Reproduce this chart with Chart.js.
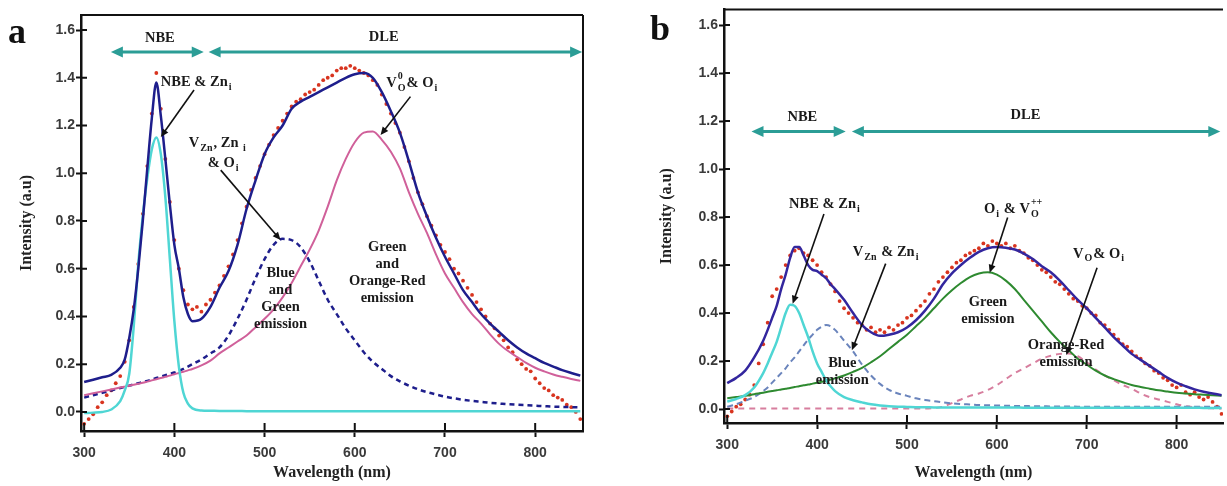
<!DOCTYPE html>
<html>
<head>
<meta charset="utf-8">
<title>PL spectra a / b</title>
<script src="https://cdn.jsdelivr.net/npm/chart.js@4.4.1/dist/chart.umd.min.js"></script>
<style>
    html, body { margin: 0; padding: 0; background: #fff; }
    #wrap { position: relative; width: 1227px; height: 486px; overflow: hidden; }
    #chart-a { position: absolute; left: 0; top: 0; }
    #chart-b { position: absolute; left: 612px; top: 0; }
</style>
</head>
<body>
<div id="wrap">
    <canvas id="chart-a" width="612" height="486"></canvas>
    <canvas id="chart-b" width="615" height="486"></canvas>
</div>
<script>
'use strict';

// Axis ticks
var xTickVals = [300, 400, 500, 600, 700, 800];
var xTickLabels = ['300', '400', '500', '600', '700', '800'];
var yTickVals = [0, 0.2, 0.4, 0.6, 0.8, 1.0, 1.2, 1.4, 1.6];
var yTickLabels = ['0.0', '0.2', '0.4', '0.6', '0.8', '1.0', '1.2', '1.4', '1.6'];

// Wavelengths (nm) where the fitted curves were read
var fitWl = [
    300, 310, 320, 330, 340,
    345, 350, 355, 360, 365, 370, 375, 380, 385, 390, 395, 400, 405, 410, 415, 420,
    430, 440, 450, 460, 470, 480, 490, 500, 510, 520,
    530, 540, 550, 560, 570, 580, 590, 600, 610, 620,
    630, 640, 650, 660, 670, 680, 690, 700, 710, 720,
    730, 740, 750, 760, 770, 780, 790, 800, 810, 820,
    830, 840, 850
];

// Panel a - fitted curves
var fitA = [
    .125, .135, .145, .155, .185,
    .22, .31, .43, .60, .80, 1.02, 1.23, 1.38, 1.24, 1.06, .87, .70, .60, .48, .41, .38,
    .39, .44, .52, .59, .70, .85, .97, 1.08, 1.15, 1.20,
    1.27, 1.30, 1.32, 1.34, 1.36, 1.38, 1.40, 1.415, 1.42, 1.40,
    1.34, 1.26, 1.17, 1.05, .92, .82, .73, .65, .58, .51,
    .46, .41, .37, .335, .30, .27, .245, .225, .205, .19,
    .175, .163, .152
];
var nbeA = [
    -.005, -.003, 0, .01, .045,
    .09, .16, .36, .62, .82, .98, 1.10, 1.15, 1.08, .90, .64, .38, .19, .08, .035, .015,
    .006, .005, .004, .004, .004, .003, .003, .003, .003, .003,
    .003, .003, .003, .003, .003, .003, .003, .003, .003, .003,
    .003, .003, .003, .003, .003, .003, .003, .003, .003, .003,
    .003, .003, .003, .003, .003, .003, .003, .003, .003, .003,
    .003, .003, .003
];
var blueGreenA = [
    .06, .07, .08, .09, .10,
    .105, .11, .115, .12, .125, .13, .136, .142, .148, .154, .16, .165, .172, .18, .19, .20,
    .22, .245, .27, .32, .39, .47, .56, .64, .70, .725,
    .72, .69, .63, .55, .47, .41, .35, .30, .25, .21,
    .18, .15, .128, .11, .095, .083, .073, .064, .057, .051,
    .046, .042, .038, .035, .032, .03, .028, .026, .024, .022,
    .021, .02, .019
];
var greenOrangeA = [
    .07, .078, .086, .094, .102,
    .106, .11, .114, .118, .122, .127, .132, .137, .142, .147, .152, .158, .163, .168, .174, .18,
    .195, .215, .245, .27, .295, .32, .355, .39, .43, .48,
    .54, .61, .68, .76, .86, .97, 1.06, 1.13, 1.17, 1.175,
    1.14, 1.09, 1.02, .92, .83, .75, .66, .58, .52, .46,
    .41, .37, .325, .285, .255, .23, .205, .185, .17, .157,
    .147, .138, .13
];

// Panel b - fitted curves
var fitB = [
    .108, .13, .16, .215, .285,
    .33, .38, .43, .50, .56, .63, .675, .675, .64, .60, .58, .575, .56, .545, .52, .50,
    .455, .40, .35, .32, .305, .31, .32, .34, .37, .41,
    .46, .52, .565, .60, .63, .655, .67, .675, .672, .665,
    .648, .625, .595, .57, .535, .495, .455, .42, .38, .34,
    .30, .265, .23, .205, .18, .155, .13, .11, .095, .082,
    .072, .065, .058
];
var nbeB = [
    .031, .042, .058, .09, .15,
    .19, .235, .28, .34, .40, .435, .43, .40, .35, .30, .24, .19, .155, .12, .095, .075,
    .05, .037, .028, .02, .015, .012, .01, .009, .008, .008,
    .007, .007, .007, .007, .007, .007, .007, .007, .007, .007,
    .006, .006, .006, .006, .006, .006, .006, .006, .006, .006,
    .006, .006, .006, .006, .006, .006, .006, .006, .006, .006,
    .005, .005, .005
];
var blueB = [
    .01, .02, .035, .05, .075,
    .09, .11, .13, .15, .17, .195, .215, .24, .265, .29, .31, .33, .343, .35, .345, .33,
    .285, .24, .185, .14, .105, .08, .065, .055, .045, .038,
    .033, .028, .024, .021, .019, .017, .016, .015, .014, .013,
    .013, .012, .012, .011, .011, .011, .01, .01, .01, .01,
    .01, .01, .01, .01, .01, .01, .01, .01, .01, .01,
    .01, .01, .01
];
var greenB = [
    .045, .05, .055, .062, .068,
    .072, .075, .078, .082, .085, .088, .092, .095, .099, .102, .106, .11, .114, .118, .123, .128,
    .14, .155, .172, .195, .22, .25, .28, .31, .345, .38,
    .42, .46, .495, .525, .55, .565, .57, .56, .535, .50,
    .455, .41, .365, .32, .28, .245, .21, .185, .16, .14,
    .125, .112, .10, .092, .085, .078, .073, .068, .065, .062,
    .06, .058, .056
];
var orangeRedB = [
    .002, .002, .002, .002, .002,
    .002, .002, .002, .002, .002, .002, .002, .002, .002, .002, .002, .002, .002, .002, .002, .002,
    .002, .002, .002, .002, .002, .002, .002, .002, .002, .002,
    .004, .01, .025, .04, .055, .065, .08, .10, .125, .15,
    .17, .19, .21, .222, .23, .232, .22, .195, .165, .14,
    .12, .10, .085, .065, .05, .04, .03, .02, .012, .008,
    .005, .003, .002
];

// Measured spectra (red dots), one value every 5 nm
var dotWl = [
    300, 305, 310, 315, 320, 325, 330, 335, 340, 345,
    350, 355, 360, 365, 370, 375, 380, 385, 390, 395,
    400, 405, 410, 415, 420, 425, 430, 435, 440, 445,
    450, 455, 460, 465, 470, 475, 480, 485, 490, 495,
    500, 505, 510, 515, 520, 525, 530, 535, 540, 545,
    550, 555, 560, 565, 570, 575, 580, 585, 590, 595,
    600, 605, 610, 615, 620, 625, 630, 635, 640, 645,
    650, 655, 660, 665, 670, 675, 680, 685, 690, 695,
    700, 705, 710, 715, 720, 725, 730, 735, 740, 745,
    750, 755, 760, 765, 770, 775, 780, 785, 790, 795,
    800, 805, 810, 815, 820, 825, 830, 835, 840, 845,
    850
];
var dotsA = [
    -.05, -.03, -.01, .02, .04, .07, .09, .12, .15, .21,
    .30, .44, .62, .83, 1.03, 1.25, 1.42, 1.27, 1.06, .88,
    .72, .60, .51, .45, .43, .44, .42, .45, .47, .50,
    .53, .57, .61, .66, .72, .79, .86, .93, .98, 1.03,
    1.08, 1.12, 1.16, 1.19, 1.22, 1.25, 1.28, 1.30, 1.31, 1.33,
    1.34, 1.35, 1.37, 1.39, 1.40, 1.41, 1.43, 1.44, 1.44, 1.45,
    1.44, 1.43, 1.42, 1.41, 1.39, 1.37, 1.33, 1.29, 1.25, 1.21,
    1.17, 1.11, 1.05, .98, .92, .87, .82, .78, .74, .70,
    .67, .64, .60, .58, .55, .52, .49, .46, .43, .40,
    .37, .35, .32, .30, .27, .25, .22, .20, .18, .17,
    .14, .12, .10, .09, .07, .06, .05, .03, .02, .00,
    -.03
];
var dotsB = [
    -.03, -.01, .01, .02, .04, .06, .10, .19, .27, .36,
    .47, .50, .55, .60, .64, .66, .67, .65, .64, .62,
    .60, .57, .55, .52, .49, .45, .42, .40, .38, .36,
    .35, .33, .34, .32, .33, .32, .34, .33, .35, .36,
    .38, .39, .41, .43, .45, .48, .50, .53, .55, .57,
    .59, .61, .62, .64, .65, .66, .67, .69, .68, .70,
    .69, .68, .69, .67, .68, .66, .65, .63, .62, .60,
    .58, .57, .55, .53, .52, .50, .48, .46, .45, .43,
    .42, .40, .39, .36, .35, .33, .31, .29, .27, .26,
    .24, .22, .21, .19, .18, .16, .15, .13, .12, .10,
    .09, .10, .07, .06, .07, .05, .04, .05, .03, .01,
    -.02
];

var SERIF = "'Liberation Serif', 'Times New Roman', serif";
var SANS = "'Liberation Sans', Arial, sans-serif";

var PLChart = {

    /**
     * Build both panels
     */
    init: function() {
        this.render('chart-a', {
            label: 'a',
            labelPos: [8, 43],
            xMin: 296.5, xMax: 853, yMin: -0.08, yMax: 1.663,
            padding: { top: 15, right: 29, left: 0, bottom: 0 },
            yWidth: 81, xHeight: 55, yTitlePad: 17,
            frame: { top: true, right: true },
            datasets: [
                this.line('Fit', fitA, '#1e1e8c', 2.5),
                this.line('NBE & Zni', nbeA, '#4fd6d4', 2.5),
                this.line('Green and Orange-Red', greenOrangeA, '#d0609a', 2),
                this.line('Blue and Green', blueGreenA, '#1e1e8c', 2.5, [5, 4]),
                this.dots('Measured', dotsA)
            ],
            notes: [
                { type: 'span', from: 329.6, to: 432.6, y: 1.508 },
                { type: 'span', from: 438, to: 852, y: 1.508 },
                { type: 'text', x: 383.9, y: 1.567, lines: [[{ t: 'NBE' }]] },
                { type: 'text', x: 632, y: 1.571, lines: [[{ t: 'DLE' }]] },
                { type: 'text', x: 385, y: 1.38, align: 'left', lines: [[{ t: 'NBE & Zn' }, { sub: 'i' }]] },
                { type: 'arrow', x1: 421.8, y1: 1.349, x2: 385, y2: 1.152 },
                { type: 'text', x: 416, y: 1.126, align: 'left', lines: [[{ t: 'V' }, { sub: 'Zn' }, { t: ', Zn ' }, { sub: 'i' }]] },
                { type: 'text', x: 437, y: 1.043, align: 'left', lines: [[{ t: '& O' }, { sub: 'i' }]] },
                { type: 'arrow', x1: 451.4, y1: 1.013, x2: 517.7, y2: 0.72 },
                { type: 'text', x: 517.7, y: 0.581, lines: [[{ t: 'Blue' }], [{ t: 'and' }], [{ t: 'Green' }], [{ t: 'emission' }]] },
                { type: 'text', x: 635, y: 1.378, align: 'left', lines: [[{ t: 'V' }, { sub: 'O', sup: '0' }, { t: '& O' }, { sub: 'i' }]] },
                { type: 'arrow', x1: 661.7, y1: 1.321, x2: 628.6, y2: 1.16 },
                { type: 'text', x: 636, y: 0.69, lines: [[{ t: 'Green' }], [{ t: 'and' }], [{ t: 'Orange-Red' }], [{ t: 'emission' }]] }
            ]
        });

        this.render('chart-b', {
            label: 'b',
            labelPos: [38, 40],
            xMin: 296.4, xMax: 851.6, yMin: -0.058, yMax: 1.665,
            padding: { top: 7, right: 0, left: 0, bottom: 0 },
            yWidth: 112, xHeight: 63, yTitlePad: 45,
            frame: { top: true, right: false },
            datasets: [
                this.line('Fit', fitB, '#33269e', 2.5),
                this.line('NBE & Zni', nbeB, '#4fd6d4', 2.5),
                this.line('Green emission', greenB, '#2e8a30', 2),
                this.line('Blue emission', blueB, '#6a84bc', 2, [6, 4]),
                this.line('Orange-Red emission', orangeRedB, '#d77e9e', 2, [6, 5]),
                this.dots('Measured', dotsB)
            ],
            notes: [
                { type: 'span', from: 327, to: 431.8, y: 1.156 },
                { type: 'span', from: 438.7, to: 848.6, y: 1.156 },
                { type: 'text', x: 383.6, y: 1.214, lines: [[{ t: 'NBE' }]] },
                { type: 'text', x: 631.8, y: 1.226, lines: [[{ t: 'DLE' }]] },
                { type: 'text', x: 408.7, y: 0.854, lines: [[{ t: 'NBE & Zn' }, { sub: 'i' }]] },
                { type: 'arrow', x1: 407.6, y1: 0.813, x2: 372.8, y2: 0.439 },
                { type: 'text', x: 476.8, y: 0.654, lines: [[{ t: 'V' }, { sub: 'Zn' }, { t: ' & Zn' }, { sub: 'i' }]] },
                { type: 'arrow', x1: 476.3, y1: 0.606, x2: 438.7, y2: 0.245 },
                { type: 'text', x: 428, y: 0.192, lines: [[{ t: 'Blue' }], [{ t: 'emission' }]] },
                { type: 'text', x: 618.7, y: 0.833, lines: [[{ t: 'O' }, { sub: 'i' }, { t: ' & V' }, { sub: 'O', sup: '++' }]] },
                { type: 'arrow', x1: 612, y1: 0.798, x2: 592, y2: 0.568 },
                { type: 'text', x: 713.7, y: 0.647, lines: [[{ t: 'V' }, { sub: 'O' }, { t: '& O' }, { sub: 'i' }]] },
                { type: 'arrow', x1: 711.5, y1: 0.589, x2: 677.2, y2: 0.225 },
                { type: 'text', x: 590, y: 0.445, lines: [[{ t: 'Green' }], [{ t: 'emission' }]] },
                { type: 'text', x: 677, y: 0.266, lines: [[{ t: 'Orange-Red' }], [{ t: 'emission' }]] }
            ]
        });
    },

    points: function(xs, ys) {
        return xs.map(function(x, i) { return { x: x, y: ys[i] }; });
    },

    line: function(label, values, color, width, dash) {
        return {
            label: label,
            data: this.points(fitWl, values),
            borderColor: color,
            borderWidth: width,
            borderDash: dash || [],
            pointRadius: 0,
            fill: false,
            cubicInterpolationMode: 'monotone'
        };
    },

    dots: function(label, values) {
        return {
            label: label,
            data: this.points(dotWl, values),
            showLine: false,
            pointRadius: 1.9,
            pointBorderWidth: 0,
            pointBackgroundColor: '#d8341f'
        };
    },

    /**
     * Render one panel
     */
    render: function(id, p) {
        var self = this;
        var ctx = document.getElementById(id).getContext('2d');
        var tickFont = { family: SANS, size: 14, weight: 'bold' };
        var titleFont = { family: SERIF, size: 16, weight: 'bold' };

        new Chart(ctx, {
            type: 'line',
            data: { datasets: p.datasets },
            options: {
                responsive: false,
                animation: false,
                events: [],
                layout: { padding: p.padding },
                plugins: {
                    legend: { display: false },
                    tooltip: { enabled: false }
                },
                scales: {
                    x: {
                        type: 'linear',
                        min: p.xMin,
                        max: p.xMax,
                        afterBuildTicks: function(scale) {
                            scale.ticks = xTickVals.map(function(v) { return { value: v }; });
                        },
                        afterFit: function(scale) { scale.height = p.xHeight; },
                        ticks: {
                            callback: function(v, i) { return xTickLabels[i]; },
                            font: tickFont,
                            color: '#3a3a3a',
                            padding: 8,
                            maxRotation: 0,
                            autoSkip: false
                        },
                        grid: { drawOnChartArea: false, tickLength: 6, tickWidth: 2, tickColor: '#111' },
                        border: { width: 2.5, color: '#111' },
                        title: {
                            display: true,
                            text: 'Wavelength (nm)',
                            font: titleFont,
                            color: '#222',
                            padding: { top: 0, bottom: 4 }
                        }
                    },
                    y: {
                        min: p.yMin,
                        max: p.yMax,
                        afterBuildTicks: function(scale) {
                            scale.ticks = yTickVals.map(function(v) { return { value: v }; });
                        },
                        afterFit: function(scale) { scale.width = p.yWidth; },
                        ticks: {
                            callback: function(v, i) { return yTickLabels[i]; },
                            font: tickFont,
                            color: '#3a3a3a',
                            padding: 1
                        },
                        grid: { drawOnChartArea: false, tickLength: 5, tickWidth: 2, tickColor: '#111' },
                        border: { width: 2.5, color: '#111' },
                        title: {
                            display: true,
                            text: 'Intensity (a.u)',
                            font: titleFont,
                            color: '#222',
                            padding: { top: p.yTitlePad, bottom: 0 }
                        }
                    }
                }
            },
            plugins: [{
                id: 'overlay',
                afterDraw: function(chart) { self.overlay(chart, p); }
            }]
        });
    },

    /**
     * Frame, inner tick marks, labels and arrows
     */
    overlay: function(chart, p) {
        var ctx = chart.ctx;
        var area = chart.chartArea;
        var xs = chart.scales.x;
        var ys = chart.scales.y;
        var self = this;

        ctx.save();
        ctx.strokeStyle = '#111';
        ctx.lineWidth = 2;
        ctx.beginPath();
        if (p.frame.top) {
            ctx.moveTo(area.left, area.top);
            ctx.lineTo(area.right, area.top);
        }
        if (p.frame.right) {
            ctx.moveTo(area.right, area.top);
            ctx.lineTo(area.right, area.bottom);
        }
        ctx.stroke();

        // tick marks cross the axis lines
        ctx.beginPath();
        xTickVals.forEach(function(v) {
            var px = xs.getPixelForValue(v);
            ctx.moveTo(px, area.bottom);
            ctx.lineTo(px, area.bottom - 8);
        });
        yTickVals.forEach(function(v) {
            var py = ys.getPixelForValue(v);
            ctx.moveTo(area.left, py);
            ctx.lineTo(area.left + 6, py);
        });
        ctx.stroke();

        // panel letter
        ctx.fillStyle = '#111';
        ctx.font = 'bold 36px ' + SERIF;
        ctx.textAlign = 'left';
        ctx.textBaseline = 'alphabetic';
        ctx.fillText(p.label, p.labelPos[0], p.labelPos[1]);

        p.notes.forEach(function(n) {
            if (n.type === 'span') {
                self.span(ctx, xs.getPixelForValue(n.from), xs.getPixelForValue(n.to), ys.getPixelForValue(n.y));
            } else if (n.type === 'arrow') {
                self.arrow(ctx, xs.getPixelForValue(n.x1), ys.getPixelForValue(n.y1),
                    xs.getPixelForValue(n.x2), ys.getPixelForValue(n.y2));
            } else {
                var x = xs.getPixelForValue(n.x);
                var y = ys.getPixelForValue(n.y);
                n.lines.forEach(function(segs, i) {
                    self.rich(ctx, segs, x, y + i * 17, n.align || 'center');
                });
            }
        });
        ctx.restore();
    },

    font: function(size) {
        return 'bold ' + size + 'px ' + SERIF;
    },

    rich: function(ctx, segs, x, y, align) {
        var self = this;
        var big = 14.5, small = 10;
        var widths = segs.map(function(s) {
            if (s.t !== undefined) {
                ctx.font = self.font(big);
                return ctx.measureText(s.t).width;
            }
            ctx.font = self.font(small);
            return Math.max(s.sub ? ctx.measureText(s.sub).width : 0,
                s.sup ? ctx.measureText(s.sup).width : 0) + 2;
        });
        var total = widths.reduce(function(a, b) { return a + b; }, 0);
        var cx = align === 'center' ? x - total / 2 : x;

        ctx.fillStyle = '#1a1a1a';
        ctx.textAlign = 'left';
        ctx.textBaseline = 'middle';
        segs.forEach(function(s, i) {
            if (s.t !== undefined) {
                ctx.font = self.font(big);
                ctx.fillText(s.t, cx, y);
            } else {
                ctx.font = self.font(small);
                if (s.sub) ctx.fillText(s.sub, cx + 1, y + 5);
                if (s.sup) ctx.fillText(s.sup, cx + 1, y - 7);
            }
            cx += widths[i];
        });
    },

    head: function(ctx, x, y, ang, len, half) {
        var c = Math.cos(ang), s = Math.sin(ang);
        ctx.beginPath();
        ctx.moveTo(x, y);
        ctx.lineTo(x - c * len - s * half, y - s * len + c * half);
        ctx.lineTo(x - c * len + s * half, y - s * len - c * half);
        ctx.closePath();
        ctx.fill();
    },

    arrow: function(ctx, x1, y1, x2, y2) {
        var ang = Math.atan2(y2 - y1, x2 - x1);
        ctx.strokeStyle = '#111';
        ctx.fillStyle = '#111';
        ctx.lineWidth = 1.6;
        ctx.beginPath();
        ctx.moveTo(x1, y1);
        ctx.lineTo(x2 - Math.cos(ang) * 6, y2 - Math.sin(ang) * 6);
        ctx.stroke();
        this.head(ctx, x2, y2, ang, 8, 3.5);
    },

    span: function(ctx, x1, x2, y) {
        ctx.strokeStyle = '#2b9d96';
        ctx.fillStyle = '#2b9d96';
        ctx.lineWidth = 3;
        ctx.beginPath();
        ctx.moveTo(x1 + 8, y);
        ctx.lineTo(x2 - 8, y);
        ctx.stroke();
        this.head(ctx, x1, y, Math.PI, 12, 5.5);
        this.head(ctx, x2, y, 0, 12, 5.5);
    }
};

PLChart.init();
</script>
</body>
</html>
